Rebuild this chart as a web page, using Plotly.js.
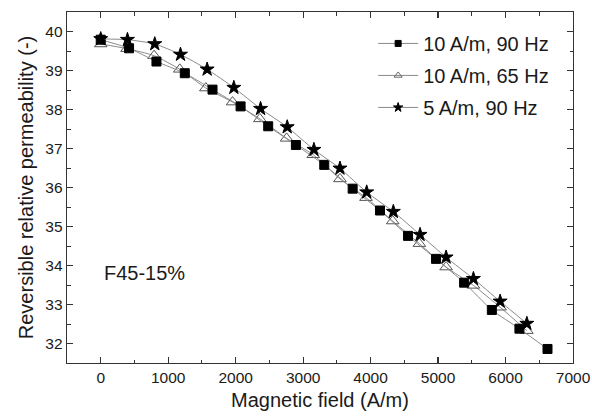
<!DOCTYPE html>
<html>
<head>
<meta charset="utf-8">
<script src="https://cdn.plot.ly/plotly-3.0.1.min.js"></script>
<style>html,body{margin:0;padding:0;background:#fff;}#chart{width:592px;height:418px;}</style>
</head>
<body>
<div id="chart"></div>
<script>
// 10 A/m, 90 Hz (filled squares)
var sqX = [0, 420, 826, 1246, 1657, 2073, 2482, 2893, 3313, 3734, 4139, 4555, 4970, 5386, 5797, 6206, 6622];
var sqY = [39.79, 39.57, 39.23, 38.93, 38.51, 38.08, 37.57, 37.09, 36.58, 35.97, 35.41, 34.76, 34.17, 33.56, 32.86, 32.38, 31.86];
// 10 A/m, 65 Hz (open triangles)
var triX = [0, 390, 791, 1172, 1558, 1954, 2359, 2755, 3150, 3546, 3932, 4328, 4723, 5119, 5524, 5920, 6316];
var triY = [39.68, 39.56, 39.38, 39.03, 38.55, 38.19, 37.76, 37.26, 36.84, 36.22, 35.74, 35.14, 34.56, 33.96, 33.49, 32.93, 32.33];
// 5 A/m, 90 Hz (stars)
var starX = [0, 396, 801, 1182, 1577, 1973, 2369, 2764, 3160, 3546, 3942, 4337, 4733, 5119, 5524, 5920, 6316];
var starY = [39.81, 39.79, 39.68, 39.41, 39.03, 38.56, 38.02, 37.55, 36.97, 36.49, 35.88, 35.38, 34.79, 34.21, 33.66, 33.08, 32.51];

var seriesNames = ['10 A/m, 90 Hz', '10 A/m, 65 Hz', '5 A/m, 90 Hz'];
var xTickVals = [0, 1000, 2000, 3000, 4000, 5000, 6000, 7000];
var yTickVals = [32, 33, 34, 35, 36, 37, 38, 39, 40];
var sampleLabel = 'F45-15%';

var lineGray = '#8a8a8a';
var fontFam = 'Liberation Sans, Arial, sans-serif';

function dataTrace(x, y, sym, size, mcolor, lcolor) {
  return {
    x: x, y: y, type: 'scatter', mode: 'lines+markers', showlegend: false,
    line: {color: lineGray, width: 1, shape: 'spline', smoothing: 0.6},
    marker: {symbol: sym, size: size, color: mcolor, line: {color: lcolor, width: 1}}
  };
}
function legendTrace(name, group, sym, size, mcolor, lcolor) {
  return {
    x: [null], y: [null], type: 'scatter', mode: 'lines+markers', name: name,
    legendgroup: group,
    line: {color: lineGray, width: 1},
    marker: {symbol: sym, size: size, color: mcolor, line: {color: lcolor, width: 1}}
  };
}

var traces = [
  dataTrace(triX, triY, 'triangle-up-open', 11, '#555', '#555'),
  dataTrace(sqX, sqY, 'square', 9, '#000', '#000'),
  dataTrace(starX, starY, 'star', 10.5, '#000', '#000'),
  legendTrace(seriesNames[0], 'g1', 'square', 6, '#000', '#000'),
  legendTrace(seriesNames[1], 'g2', 'triangle-up-open', 7, '#666', '#666'),
  legendTrace(seriesNames[2], 'g3', 'star', 7, '#000', '#000')
];

var axisCommon = {
  showline: true, linecolor: '#333', linewidth: 1.3, mirror: 'allticks',
  ticks: 'inside', ticklen: 6, tickwidth: 1.2, tickcolor: '#333',
  showgrid: false, zeroline: false,
  tickfont: {family: fontFam, size: 15.5, color: '#1a1a1a'}
};

var layout = {
  width: 592, height: 418,
  margin: {l: 67, r: 19, t: 12, b: 55},
  paper_bgcolor: '#fff', plot_bgcolor: '#fff',
  font: {family: fontFam, color: '#1a1a1a'},
  xaxis: Object.assign({}, axisCommon, {
    range: [-500, 7000], tickvals: xTickVals, ticktext: xTickVals.map(String),
    minor: {dtick: 500, tick0: 0, ticks: 'inside', ticklen: 3.5, tickcolor: '#333', tickwidth: 1},
    title: {text: 'Magnetic field (A/m)', font: {family: fontFam, size: 20, color: '#1a1a1a'}, standoff: 8}
  }),
  yaxis: Object.assign({}, axisCommon, {
    range: [31.5, 40.5], tickvals: yTickVals, ticktext: yTickVals.map(String),
    minor: {dtick: 0.5, tick0: 0, ticks: 'inside', ticklen: 3.5, tickcolor: '#333', tickwidth: 1},
    title: {text: 'Reversible relative permeability (-)', font: {family: fontFam, size: 20, color: '#1a1a1a'}, standoff: 6}
  }),
  legend: {
    x: 0.605, y: 0.966, xanchor: 'left', yanchor: 'top',
    bgcolor: 'rgba(0,0,0,0)', borderwidth: 0,
    font: {family: fontFam, size: 20, color: '#1a1a1a'},
    itemwidth: 40, traceorder: 'grouped', tracegroupgap: 3
  },
  annotations: [{
    text: sampleLabel, xref: 'paper', yref: 'paper', x: 0.07, y: 0.256,
    xanchor: 'left', yanchor: 'middle', showarrow: false,
    font: {family: fontFam, size: 20, color: '#1a1a1a'}
  }]
};

Plotly.newPlot('chart', traces, layout, {displayModeBar: false, staticPlot: true});
</script>
</body>
</html>
